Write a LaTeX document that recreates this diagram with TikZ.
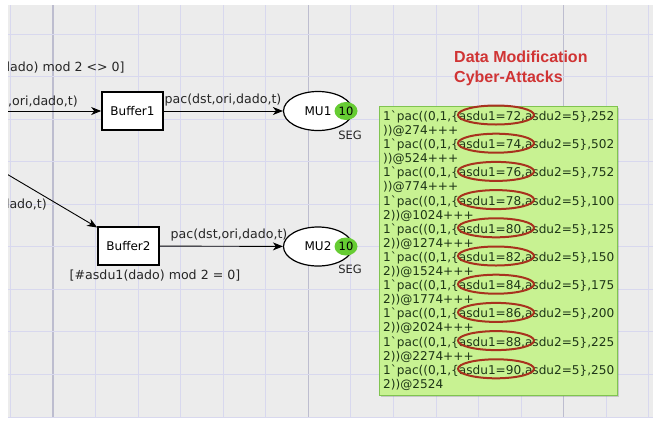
\documentclass[tikz,border=0pt]{standalone}
\usepackage{fontspec}
\setmainfont{DejaVu Sans}
\newfontfamily\titlefont{Liberation Sans}
\usetikzlibrary{arrows.meta,shapes.geometric,shadows}
\definecolor{canvas}{HTML}{ECECEC}
\definecolor{gridline}{HTML}{D8D8EE}
\definecolor{gridmajor}{HTML}{BDBDCF}
\definecolor{labelgray}{HTML}{262626}
\definecolor{tokengreen}{HTML}{66CC33}
\definecolor{markgreen}{HTML}{C8F292}
\definecolor{markedge}{HTML}{80C450}
\definecolor{marktext}{HTML}{1E3617}
\definecolor{attackred}{HTML}{D03434}
\definecolor{hitred}{HTML}{A8321E}
\tikzset{
  lbl/.style={inner sep=0pt, text=labelgray, font=\fontsize{12.6}{14}\selectfont},
  trans/.style={draw, line width=1.6pt, fill=white, minimum width=61pt, minimum height=38pt, font=\fontsize{12}{14}\selectfont},
  place/.style={draw, ellipse, line width=1.2pt, fill=white, minimum width=69pt, minimum height=39pt, font=\fontsize{12}{14}\selectfont},
  token/.style={ellipse, fill=tokengreen, minimum width=23pt, minimum height=18pt, inner sep=0pt, font=\fontsize{11.5}{13}\selectfont},
  arc/.style={line width=0.9pt, -{Stealth[length=10pt,width=8pt,inset=3pt]}},
  marking/.style={draw=markedge, fill=markgreen, line width=0.8pt, minimum width=238pt, minimum height=289pt, drop shadow={shadow xshift=2pt, shadow yshift=-2pt, opacity=.35}},
  mline/.style={anchor=base west, inner sep=0pt, text=marktext, font=\fontsize{12.1}{14.1}\selectfont},
  hit/.style={draw=hitred, line width=2pt}
}
\begin{document}
\begin{tikzpicture}[x=1pt, y=-1pt, node distance=28pt]
\useasboundingbox [fill=white] (0,0) rectangle (653,424);
\begin{scope}
\clip (8,5) rectangle (653,418);
\fill [canvas] (8,5) rectangle (653,418);
\foreach \k in {-1,...,14}
  \draw [gridline, line width=1pt] (53+42.57*\k,5) -- (53+42.57*\k,418);
\foreach \k in {0,6,12}
  \draw [gridmajor, line width=1.2pt] (53+42.57*\k,5) -- (53+42.57*\k,418);
\foreach \k in {0,...,9}
  \draw [gridline, line width=1pt] (8,34+42.57*\k) -- (653,34+42.57*\k);

\node (b1) [trans] at (132.5,111) {Buffer1};
\node (mu1) [place] at (318,111) {MU1};
\node (tok1) [token, right of = mu1] {10};
\node (seg1) [lbl, font=\fontsize{11.5}{13}\selectfont] at (350,135) {SEG};
\coordinate (in1) at (0,111);

\node (b2) [trans] at (128.5,246) {Buffer2};
\node (mu2) [place] at (318,246.5) {MU2};
\node (tok2) [token, right of = mu2] {10};
\node (seg2) [lbl, font=\fontsize{11.5}{13}\selectfont] at (350,269) {SEG};
\coordinate (in2) at (0,170);

\node (g1) [lbl, anchor=west] at (2,68) {dado) mod 2 <> 0]};
\node (e1) [lbl, anchor=east] at (78,102) {,ori,dado,t)};
\node (e2) [lbl] at (223,100) {pac(dst,ori,dado,t)};
\node (e3) [lbl, anchor=east] at (47,205) {dado,t)};
\node (e4) [lbl] at (229,235) {pac(dst,ori,dado,t)};
\node (g2) [lbl] at (155,276) {[\#asdu1(dado) mod 2 = 0]};

\draw [arc] (in1) -- (b1);
\draw [arc] (b1) -- (mu1);
\draw [arc] (in2) -- (b2);
\draw [arc] (b2) -- (mu2);

\node (title) [anchor=north west, align=left, inner sep=0pt, text=attackred, font=\titlefont\bfseries\fontsize{16}{20}\selectfont] at (454,51) {Data Modification\\Cyber-Attacks};

\node (mark) [marking] at (498,250.5) {};
\foreach \v/\a/\b [count=\i from 0] in {72/252/{))@274+++}, 74/502/{))@524+++}, 76/752/{))@774+++}, 78/100/{2))@1024+++}, 80/125/{2))@1274+++}, 82/150/{2))@1524+++}, 84/175/{2))@1774+++}, 86/200/{2))@2024+++}, 88/225/{2))@2274+++}, 90/250/{2))@2524}}
{
  \node (top\i) [mline] at (383,120.4+28.2*\i) {1\textasciigrave pac((0,1,\{asdu1=\v,asdu2=5\},\a};
  \node (bot\i) [mline] at (383,134.5+28.2*\i) {\b};
  \draw [hit] (496,115+28.2*\i) ellipse (38 and 9.5);
}
\end{scope}
\end{tikzpicture}
\end{document}
